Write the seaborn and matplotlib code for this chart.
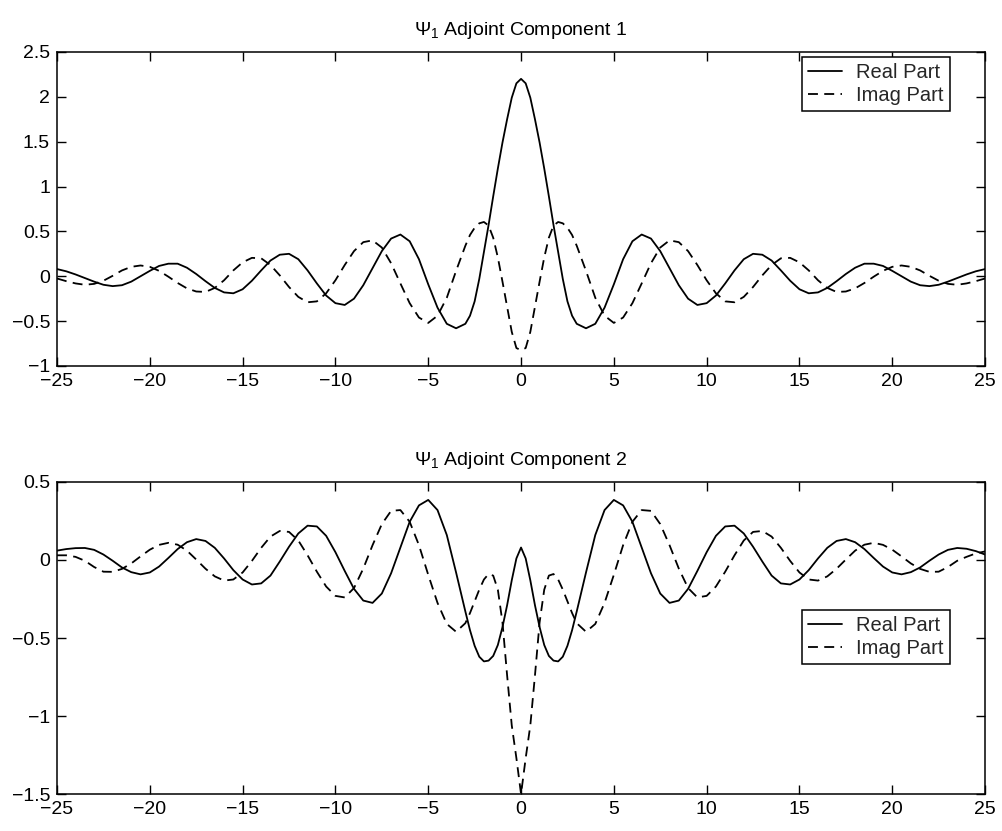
import pandas as pd
import matplotlib
matplotlib.use('Agg')
import matplotlib.pyplot as plt
from matplotlib.ticker import FuncFormatter
import seaborn as sns

# sample positions (finer near the centre peak)
x = [-25, -24.5, -24, -23.5, -23, -22.5, -22, -21.5, -21, -20.5, -20, -19.5, -19, -18.5,
     -18, -17.5, -17, -16.5, -16, -15.5, -15, -14.5, -14, -13.5, -13, -12.5, -12, -11.5,
     -11, -10.5, -10, -9.5, -9, -8.5, -8, -7.5, -7, -6.5, -6, -5.5, -5, -4.5, -4, -3.5,
     -3, -2.75, -2.5, -2.25, -2, -1.75, -1.5, -1.25, -1, -0.75, -0.5, -0.25,
     0,
     0.25, 0.5, 0.75, 1, 1.25, 1.5, 1.75, 2, 2.25, 2.5, 2.75, 3,
     3.5, 4, 4.5, 5, 5.5, 6, 6.5, 7, 7.5, 8, 8.5, 9, 9.5, 10, 10.5, 11, 11.5, 12, 12.5,
     13, 13.5, 14, 14.5, 15, 15.5, 16, 16.5, 17, 17.5, 18, 18.5, 19, 19.5, 20, 20.5, 21,
     21.5, 22, 22.5, 23, 23.5, 24, 24.5, 25]

# component 1
real1 = [0.08, 0.055, 0.02, -0.02, -0.06, -0.095, -0.11, -0.10, -0.06, 0.0, 0.06, 0.115,
         0.14, 0.14, 0.095, 0.025, -0.055, -0.13, -0.18, -0.19, -0.145, -0.05, 0.065, 0.175,
         0.24, 0.25, 0.19, 0.065, -0.08, -0.215, -0.30, -0.32, -0.25, -0.10, 0.09, 0.28,
         0.42, 0.465, 0.39, 0.19, -0.09, -0.35, -0.53, -0.58, -0.53, -0.44, -0.28, -0.03,
         0.27, 0.57, 0.89, 1.20, 1.49, 1.75, 1.99, 2.15,
         2.20,
         2.15, 1.99, 1.75, 1.49, 1.20, 0.89, 0.57, 0.27, -0.03, -0.28, -0.44, -0.53,
         -0.58, -0.53, -0.35, -0.09, 0.19, 0.39, 0.465, 0.42, 0.28, 0.09, -0.10, -0.25, -0.32,
         -0.30, -0.215, -0.08, 0.065, 0.19, 0.25, 0.24, 0.175, 0.065, -0.05, -0.145, -0.19,
         -0.18, -0.13, -0.055, 0.025, 0.095, 0.14, 0.14, 0.115, 0.06, 0.0, -0.06, -0.10,
         -0.11, -0.095, -0.06, -0.02, 0.02, 0.055, 0.08]
imag1 = [-0.025, -0.055, -0.08, -0.095, -0.085, -0.05, 0.005, 0.065, 0.105, 0.12, 0.105,
         0.06, -0.005, -0.075, -0.135, -0.17, -0.175, -0.13, -0.045, 0.065, 0.155, 0.205,
         0.20, 0.125, 0.01, -0.12, -0.23, -0.29, -0.28, -0.19, -0.045, 0.125, 0.28, 0.38,
         0.40, 0.32, 0.145, -0.08, -0.30, -0.46, -0.52, -0.44, -0.24, 0.06, 0.34, 0.46, 0.54,
         0.59, 0.605, 0.565, 0.43, 0.21, -0.06, -0.34, -0.62, -0.80,
         -0.825,
         -0.80, -0.62, -0.34, -0.06, 0.21, 0.43, 0.565, 0.605, 0.59, 0.54, 0.46, 0.34,
         0.06, -0.24, -0.44, -0.52, -0.46, -0.30, -0.08, 0.145, 0.32, 0.40, 0.38, 0.28, 0.125,
         -0.045, -0.19, -0.28, -0.29, -0.23, -0.12, 0.01, 0.125, 0.20, 0.205, 0.155, 0.065,
         -0.045, -0.13, -0.175, -0.17, -0.135, -0.075, -0.005, 0.06, 0.105, 0.12, 0.105,
         0.065, 0.005, -0.05, -0.085, -0.095, -0.08, -0.055, -0.025]

# component 2
real2 = [0.06, 0.07, 0.076, 0.077, 0.065, 0.035, -0.005, -0.048, -0.078, -0.092, -0.08,
         -0.042, 0.013, 0.07, 0.114, 0.134, 0.122, 0.078, 0.01, -0.065, -0.125, -0.157, -0.15,
         -0.10, -0.01, 0.085, 0.17, 0.22, 0.215, 0.155, 0.05, -0.07, -0.185, -0.26, -0.275,
         -0.215, -0.085, 0.08, 0.245, 0.35, 0.385, 0.32, 0.16, -0.08, -0.33, -0.45, -0.55,
         -0.62, -0.65, -0.645, -0.615, -0.545, -0.43, -0.29, -0.13, 0.01,
         0.08,
         0.01, -0.13, -0.29, -0.43, -0.545, -0.615, -0.645, -0.65, -0.62, -0.55, -0.45, -0.33,
         -0.08, 0.16, 0.32, 0.385, 0.35, 0.245, 0.08, -0.085, -0.215, -0.275, -0.26, -0.185,
         -0.07, 0.05, 0.155, 0.215, 0.22, 0.17, 0.085, -0.01, -0.10, -0.15, -0.157, -0.125,
         -0.065, 0.01, 0.078, 0.122, 0.134, 0.114, 0.07, 0.013, -0.042, -0.08, -0.092,
         -0.078, -0.048, -0.005, 0.035, 0.065, 0.077, 0.072, 0.057, 0.035]
imag2 = [0.03, 0.03, 0.02, -0.005, -0.045, -0.075, -0.076, -0.057, -0.022, 0.023, 0.066,
         0.097, 0.11, 0.098, 0.06, 0.003, -0.056, -0.105, -0.132, -0.125, -0.08, -0.006,
         0.078, 0.15, 0.186, 0.18, 0.125, 0.03, -0.075, -0.17, -0.23, -0.24, -0.18, -0.055,
         0.095, 0.23, 0.315, 0.32, 0.245, 0.095, -0.095, -0.275, -0.41, -0.46, -0.405, -0.34,
         -0.265, -0.19, -0.125, -0.09, -0.10, -0.19, -0.40, -0.74, -1.06, -1.27,
         -1.50,
         -1.27, -1.06, -0.74, -0.40, -0.19, -0.10, -0.09, -0.125, -0.19, -0.265, -0.34, -0.405,
         -0.46, -0.41, -0.275, -0.095, 0.095, 0.245, 0.32, 0.315, 0.23, 0.095, -0.055, -0.18,
         -0.24, -0.23, -0.17, -0.075, 0.03, 0.125, 0.18, 0.186, 0.15, 0.078, -0.006, -0.08,
         -0.125, -0.132, -0.105, -0.056, 0.003, 0.06, 0.098, 0.11, 0.097, 0.066, 0.023,
         -0.022, -0.057, -0.076, -0.075, -0.045, -0.005, 0.02, 0.042, 0.055]

titles = [r'$\Psi_1$ Adjoint Component 1', r'$\Psi_1$ Adjoint Component 2']
x_ticks = [-25, -20, -15, -10, -5, 0, 5, 10, 15, 20, 25]
y_ticks1 = [-1, -0.5, 0, 0.5, 1, 1.5, 2, 2.5]
y_ticks2 = [-1.5, -1, -0.5, 0, 0.5]

sns.set_theme(style='ticks')
plt.rcParams['font.family'] = ['Liberation Sans', 'DejaVu Sans']
plt.rcParams['mathtext.fontset'] = 'custom'
plt.rcParams['mathtext.rm'] = 'Liberation Sans'
plt.rcParams['mathtext.it'] = 'Liberation Sans'

fmt = FuncFormatter(lambda v, pos: ('%g' % v).replace('-', '\u2212'))

fig = plt.figure(figsize=(10.02, 8.31), dpi=100)
ax1 = fig.add_axes([0.0569, 0.5596, 0.9262, 0.3779])
ax2 = fig.add_axes([0.0569, 0.0445, 0.9262, 0.3755])


def draw(ax, real, imag, title, yticks, anchor):
    sns.lineplot(x=x, y=real, color='black', linewidth=1.3, label='Real Part', ax=ax)
    sns.lineplot(x=x, y=imag, color='black', linewidth=1.3, linestyle=(0, (5.5, 3.5)),
                 label='Imag Part', ax=ax)
    ax.set_xlim(-25, 25)
    ax.set_ylim(yticks[0], yticks[-1])
    ax.set_xticks(x_ticks)
    ax.set_yticks(yticks)
    ax.xaxis.set_major_formatter(fmt)
    ax.yaxis.set_major_formatter(fmt)
    ax.set_xlabel('')
    ax.set_ylabel('')
    ax.tick_params(direction='in', top=True, right=True, length=6.5, width=1.0,
                   labelsize=14, pad=5, colors='black')
    for s in ax.spines.values():
        s.set_visible(True)
        s.set_color('black')
        s.set_linewidth(1.1)
    ax.set_title(title, fontsize=14, pad=12, color='black')
    leg = ax.legend(loc='upper right', bbox_to_anchor=anchor, fontsize=14.5, frameon=True,
                    fancybox=False, edgecolor='black', framealpha=1, handlelength=1.7,
                    handletextpad=0.7, borderpad=0.3, labelspacing=0.2, borderaxespad=0)
    leg.get_frame().set_linewidth(1.1)


draw(ax1, real1, imag1, titles[0], y_ticks1, (0.962, 0.984))
draw(ax2, real2, imag2, titles[1], y_ticks2, (0.962, 0.590))

plt.savefig('out.png', dpi=100)
plt.close()
